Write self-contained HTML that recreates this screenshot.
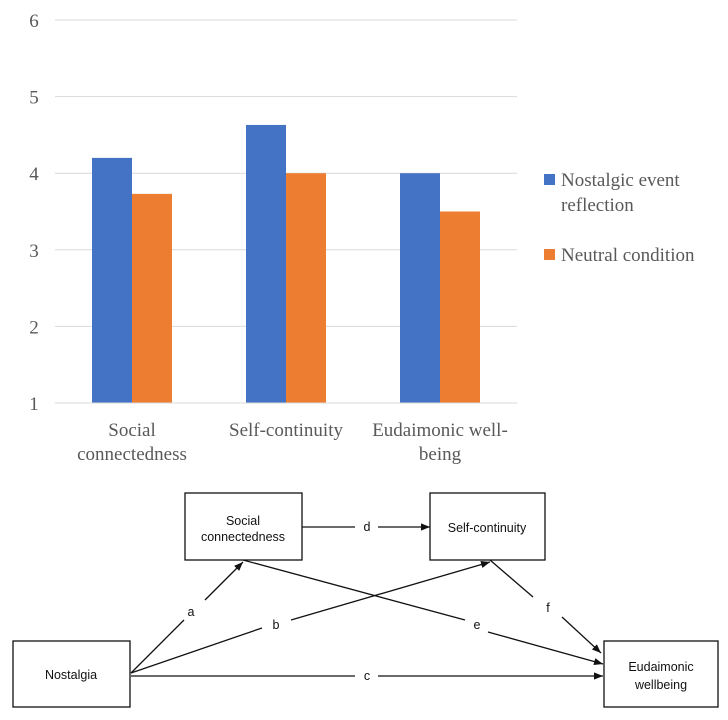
<!DOCTYPE html>
<html><head><meta charset="utf-8"><style>
body{margin:0;background:#fff;width:728px;height:720px;overflow:hidden}
svg{display:block}
.ax{font-family:"Liberation Serif",serif;font-size:19px;fill:#595959}
.dg{font-family:"Liberation Sans",sans-serif;font-size:12.5px;fill:#111}
</style></head><body>
<svg id="s" width="728" height="720">
<g id="chart"></g>
<g id="diagram">
<defs><marker id="ah" viewBox="0 0 10 10" refX="10" refY="5" markerWidth="9" markerHeight="9" markerUnits="userSpaceOnUse" orient="auto"><path d="M0,1 L10,5 L0,9 z" fill="#111"/></marker></defs>
<g stroke="#111" stroke-width="1.3" fill="none">
<line x1="302" y1="527" x2="355" y2="527"/>
<line x1="378" y1="527" x2="430" y2="527" marker-end="url(#ah)"/>
<line x1="131" y1="673" x2="184" y2="620"/>
<line x1="205" y1="600" x2="243" y2="562" marker-end="url(#ah)"/>
<line x1="131" y1="673" x2="262" y2="628"/>
<line x1="291" y1="620" x2="490" y2="562" marker-end="url(#ah)"/>
<line x1="243" y1="560" x2="465" y2="620"/>
<line x1="488" y1="632" x2="603" y2="664" marker-end="url(#ah)"/>
<line x1="490" y1="560" x2="533" y2="597"/>
<line x1="562" y1="617" x2="601" y2="653" marker-end="url(#ah)"/>
<line x1="131" y1="676" x2="355" y2="676"/>
<line x1="378" y1="676" x2="603" y2="676" marker-end="url(#ah)"/>
<rect x="185" y="493" width="117" height="67" fill="#fff"/>
<rect x="430" y="493" width="115" height="67" fill="#fff"/>
<rect x="13" y="641" width="117" height="66" fill="#fff"/>
<rect x="604" y="641" width="114" height="66" fill="#fff"/>
</g>
<g class="dg" text-anchor="middle">
<text x="243" y="525">Social</text><text x="243" y="541">connectedness</text>
<text x="487" y="532">Self-continuity</text>
<text x="71" y="679">Nostalgia</text>
<text x="661" y="671">Eudaimonic</text><text x="661" y="689">wellbeing</text>
<text x="367" y="531">d</text><text x="191" y="616">a</text><text x="276" y="629">b</text>
<text x="477" y="629">e</text><text x="548" y="612">f</text><text x="367" y="680">c</text>
</g>
</g>
</svg>
<script>
const categories=[["Social","connectedness"],["Self-continuity"],["Eudaimonic well-","being"]];
const nostalgic=[4.2,4.63,4.0];
const neutral=[3.73,4.0,3.5];
const yTicks=[1,2,3,4,5,6];
const NS="http://www.w3.org/2000/svg";
const g=document.getElementById('chart');
const x0=55,x1=517,yMin=1,yMax=6,py0=403,py1=20;
const y=v=>py0-(v-yMin)/(yMax-yMin)*(py0-py1);
const band=(x1-x0)/categories.length;
const cx=i=>x0+band*(i+0.5);
function mk(t,a){const e=document.createElementNS(NS,t);for(const k in a)e.setAttribute(k,a[k]);g.appendChild(e);return e;}
yTicks.forEach(t=>{
 const l=mk('line',{x1:x0,x2:x1,y1:y(t),y2:y(t),stroke:'#d9d9d9','stroke-width':1});
 
 
 const tx=mk('text',{x:34,y:y(t)+7,class:'ax','text-anchor':'middle'});tx.textContent=t;
 
 
});
const bw=40;
categories.forEach((c,i)=>{
 const b1=mk('rect',{x:cx(i)-bw,y:y(nostalgic[i]),width:bw,height:y(yMin)-y(nostalgic[i]),fill:'#4472c4'});
 
 
 const b2=mk('rect',{x:cx(i),y:y(neutral[i]),width:bw,height:y(yMin)-y(neutral[i]),fill:'#ed7d31'});
 
 
 c.forEach((ln,j)=>{const t=mk('text',{x:cx(i),y:436+j*24,class:'ax','text-anchor':'middle'});t.textContent=ln;
 
 });
});
const ax=mk('line',{x1:x0,x2:x1,y1:py0,y2:py0,stroke:'#d9d9d9','stroke-width':1});


const legend=[[['Nostalgic event','reflection'],'#4472c4',180],[['Neutral condition'],'#ed7d31',255]];
legend.forEach(([lines,col,yy])=>{
 const r=mk('rect',{x:544,y:yy-6,width:11,height:11,fill:col});
 
 
 lines.forEach((ln,j)=>{const t=mk('text',{x:561,y:yy+6+j*25,class:'ax'});t.textContent=ln;
 
 });
});
</script>
</body></html>
